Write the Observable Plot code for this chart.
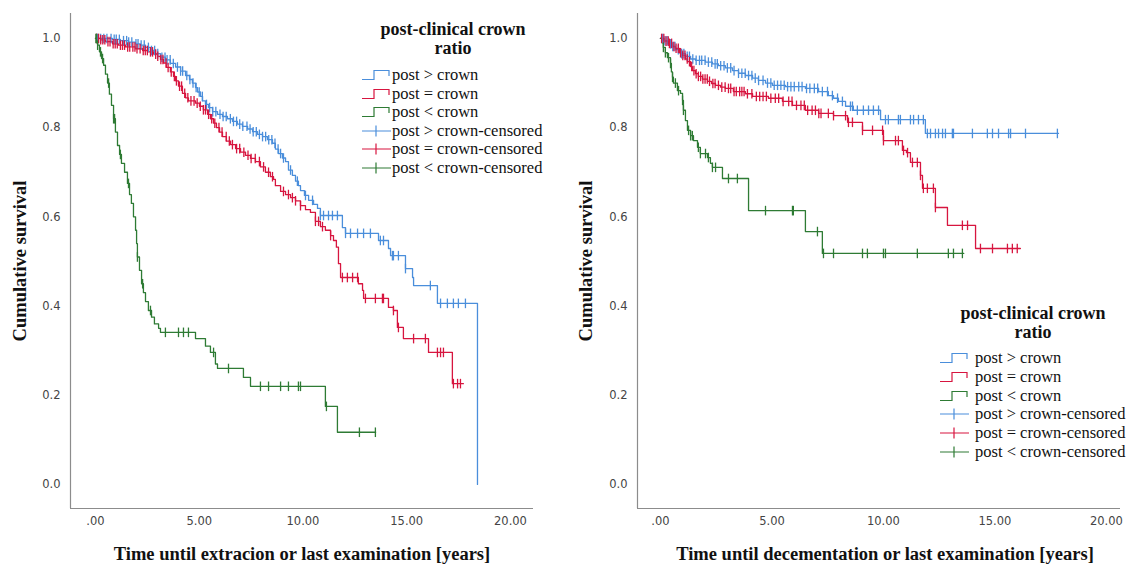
<!DOCTYPE html>
<html><head><meta charset="utf-8">
<script src="https://cdn.jsdelivr.net/npm/d3@7"></script>
<script src="https://cdn.jsdelivr.net/npm/@observablehq/plot@0.6"></script>
<style>
body{margin:0;background:#fff;}
#wrap{position:relative;width:1126px;height:566px;overflow:hidden;background:#fff;}
.panel{position:absolute;top:0;}
.ytitle{position:absolute;font:bold 18.5px "Liberation Serif","DejaVu Serif",serif;white-space:nowrap;transform:translate(-50%,-50%) rotate(-90deg);color:#111;}
.xtitle{position:absolute;font:bold 18.5px "Liberation Serif","DejaVu Serif",serif;white-space:nowrap;transform:translate(-50%,-50%);color:#111;}
.ltitle{position:absolute;font:bold 18px "Liberation Serif","DejaVu Serif",serif;white-space:nowrap;transform:translate(-50%,-50%);color:#111;text-align:center;}
.lrow{position:absolute;font:16.5px "Liberation Serif","DejaVu Serif",serif;white-space:nowrap;color:#111;transform:translateY(-50%);}
.lsym{position:absolute;transform:translateY(-50%);}
</style>
</head><body>
<div id="wrap"></div>
<script>
// ---------- data ----------
const groups = ["post > crown", "post = crown", "post < crown"];
const colors = ["#4a8edb", "#d7153f", "#2e7b34"];
const legendTitle = ["post-clinical crown", "ratio"];
const legendLabels = ["post > crown", "post = crown", "post < crown",
  "post > crown-censored", "post = crown-censored", "post < crown-censored"];
const xTicks = [0, 5, 10, 15, 20];
const yTicks = [0, 0.2, 0.4, 0.6, 0.8, 1.0];
const yTitle = "Cumulative survival";
const xTitleLeft = "Time until extracion or last examination [years]";
const xTitleRight = "Time until decementation or last examination [years]";

// Left panel (extraction) — step knots [time, survival]
const leftBlue = [[0,1.0],[0.82,0.998],[1.20,0.995],[1.59,0.992],[1.93,0.988],[2.17,0.985],[2.41,0.98],[2.65,0.973],[2.89,0.966],[3.13,0.958],[3.37,0.952],[3.61,0.944],[3.86,0.936],[4.10,0.927],[4.34,0.917],[4.53,0.908],[4.67,0.90],[4.82,0.89],[4.92,0.88],[5.06,0.87],[5.16,0.86],[5.30,0.852],[5.45,0.845],[5.64,0.836],[5.88,0.83],[6.12,0.825],[6.36,0.82],[6.60,0.814],[6.84,0.808],[7.08,0.803],[7.33,0.797],[7.57,0.791],[7.81,0.785],[8.05,0.78],[8.29,0.773],[8.53,0.765],[8.67,0.752],[8.82,0.742],[9.01,0.732],[9.16,0.724],[9.30,0.705],[9.49,0.693],[9.64,0.68],[9.78,0.67],[9.88,0.659],[10.07,0.648],[10.27,0.637],[10.51,0.628],[10.70,0.619],[10.84,0.603],[11.90,0.576],[12.05,0.563],[13.64,0.547],[14.12,0.529],[14.22,0.513],[14.94,0.484],[15.28,0.464],[15.33,0.446],[16.48,0.406],[18.41,0.0]];
const leftBlueCens = [0.1,0.25,0.4,0.55,0.75,0.9,1.0,1.15,1.35,1.5,1.6,1.75,1.95,2.05,2.2,2.35,2.55,2.7,2.85,3.0,3.2,3.35,3.45,3.6,3.75,3.95,4.1,4.2,4.4,4.55,4.7,4.85,5.0,5.15,5.35,5.5,5.65,5.8,6.0,6.15,6.3,6.5,6.65,6.8,6.95,7.1,7.3,7.45,7.6,7.75,7.9,8.05,8.2,8.35,8.5,8.65,8.8,8.92,9.06,9.40,9.73,10.12,10.46,10.84,10.99,11.23,11.42,11.66,12.05,12.29,12.63,12.92,13.25,13.73,13.88,14.31,14.36,14.60,14.94,16.14,16.63,16.96,17.25,17.49,17.83];
const leftRed = [[0,1.0],[0.24,0.997],[0.48,0.993],[0.82,0.988],[1.11,0.985],[1.45,0.981],[1.93,0.977],[2.27,0.973],[2.55,0.97],[2.80,0.965],[2.99,0.96],[3.13,0.953],[3.28,0.945],[3.42,0.935],[3.61,0.925],[3.76,0.915],[3.86,0.905],[4.00,0.893],[4.19,0.877],[4.34,0.867],[4.48,0.86],[4.82,0.855],[5.01,0.848],[5.20,0.84],[5.40,0.83],[5.54,0.82],[5.69,0.81],[5.83,0.80],[5.98,0.79],[6.12,0.78],[6.31,0.77],[6.51,0.762],[6.75,0.753],[6.99,0.745],[7.23,0.738],[7.47,0.731],[7.71,0.724],[7.95,0.712],[8.19,0.70],[8.43,0.69],[8.58,0.684],[8.67,0.67],[8.92,0.657],[9.16,0.65],[9.40,0.643],[9.64,0.636],[9.88,0.625],[10.12,0.616],[10.36,0.61],[10.60,0.59],[10.84,0.578],[11.08,0.57],[11.33,0.558],[11.47,0.547],[11.61,0.532],[11.71,0.495],[11.81,0.464],[12.67,0.45],[12.87,0.435],[12.92,0.417],[14.12,0.397],[14.36,0.39],[14.55,0.352],[14.84,0.327],[16.05,0.296],[17.20,0.226],[17.73,0.226]];
const leftRedCens = [0.05,0.15,0.25,0.35,0.45,0.6,0.7,0.85,0.95,1.05,1.2,1.3,1.4,1.55,1.65,1.8,1.9,2.0,2.15,2.3,2.4,2.5,2.65,2.75,2.9,3.0,3.15,3.25,3.4,3.5,3.65,3.8,3.9,4.05,4.15,4.3,4.45,4.6,4.75,4.9,5.05,5.2,5.3,5.45,5.6,5.75,5.95,6.1,6.3,6.45,6.6,6.8,6.95,7.15,7.35,7.5,7.7,7.9,8.10,8.34,8.53,9.06,9.30,9.49,9.64,9.88,10.60,10.75,10.94,11.33,11.90,12.14,12.39,12.63,13.01,13.49,13.83,13.88,14.36,14.60,15.33,15.90,16.48,16.63,16.77,17.25,17.45,17.59];
const leftGreen = [[0,1.0],[0.10,0.985],[0.19,0.97],[0.29,0.955],[0.39,0.94],[0.48,0.92],[0.58,0.90],[0.67,0.875],[0.77,0.85],[0.87,0.82],[0.96,0.79],[1.06,0.76],[1.16,0.74],[1.25,0.72],[1.40,0.70],[1.54,0.675],[1.64,0.65],[1.73,0.63],[1.83,0.60],[1.93,0.57],[1.98,0.54],[2.02,0.51],[2.12,0.48],[2.22,0.45],[2.31,0.43],[2.41,0.41],[2.55,0.39],[2.70,0.375],[2.84,0.36],[3.04,0.35],[3.13,0.341],[4.82,0.327],[5.30,0.31],[5.54,0.296],[5.78,0.27],[5.88,0.26],[7.13,0.24],[7.47,0.22],[11.08,0.175],[11.66,0.117],[13.5,0.117]];
const leftGreenCens = [0.02,0.05,0.1,0.24,0.34,0.63,0.87,0.92,1.2,1.59,2.02,2.27,2.65,3.37,4.0,4.24,4.48,5.69,6.41,7.95,8.34,8.92,9.3,9.78,9.88,11.13,12.72,13.49];

// Right panel (decementation)
const rightBlue = [[0,1.0],[0.13,0.995],[0.31,0.988],[0.49,0.982],[0.67,0.975],[0.90,0.966],[1.12,0.96],[1.35,0.954],[1.57,0.951],[2.02,0.947],[2.33,0.943],[2.60,0.939],[2.91,0.934],[3.23,0.928],[3.50,0.922],[3.81,0.917],[4.13,0.911],[4.39,0.906],[4.71,0.90],[5.02,0.895],[5.61,0.892],[6.50,0.888],[7.09,0.881],[7.53,0.872],[7.76,0.866],[7.98,0.859],[8.30,0.848],[8.65,0.839],[9.87,0.818],[11.88,0.787],[17.85,0.787]];
const rightBlueCens = [0.1,0.2,0.3,0.45,0.55,0.65,0.8,0.95,1.05,1.2,1.3,1.45,1.6,1.75,1.85,2.0,2.15,2.3,2.45,2.55,2.7,2.85,3.0,3.15,3.3,3.5,3.65,3.8,3.95,4.1,4.25,4.4,4.6,4.8,4.95,5.1,5.25,5.4,5.55,5.7,5.85,6.0,6.2,6.35,6.55,6.7,6.9,7.05,7.26,7.49,7.71,7.94,8.16,8.52,8.61,8.83,9.10,9.33,9.55,9.78,10.09,10.22,10.67,10.76,11.21,11.35,11.57,11.79,11.97,12.11,12.33,12.47,12.65,12.78,13.09,13.14,13.99,14.66,14.89,15.16,15.61,15.70,16.37,17.80];
const rightRed = [[0,1.0],[0.18,0.994],[0.36,0.989],[0.54,0.982],[0.67,0.978],[0.85,0.968],[0.99,0.962],[1.12,0.954],[1.21,0.948],[1.35,0.937],[1.43,0.928],[1.57,0.921],[1.70,0.915],[1.88,0.909],[2.11,0.904],[2.29,0.899],[2.47,0.895],[2.69,0.891],[2.91,0.888],[3.27,0.881],[3.81,0.876],[4.13,0.87],[4.84,0.866],[5.47,0.859],[5.92,0.85],[6.50,0.839],[7.09,0.832],[7.76,0.827],[8.39,0.812],[9.06,0.794],[10.0,0.771],[10.85,0.749],[11.03,0.744],[11.21,0.722],[11.66,0.693],[11.75,0.664],[12.33,0.621],[12.87,0.581],[14.13,0.529],[16.14,0.529]];
const rightRedCens = [0.05,0.15,0.25,0.35,0.4,0.5,0.6,0.7,0.8,0.9,1.0,1.1,1.2,1.3,1.4,1.5,1.6,1.7,1.8,1.9,2.0,2.1,2.2,2.35,2.45,2.6,2.75,2.9,3.05,3.15,3.3,3.4,3.55,3.65,3.75,3.9,4.1,4.3,4.45,4.6,4.75,4.95,5.15,5.3,5.5,5.75,5.9,6.1,6.3,6.45,6.6,6.8,6.95,7.1,7.2,7.53,7.76,8.30,8.43,8.61,9.06,9.51,9.96,10.0,10.54,10.67,10.90,11.08,11.30,11.52,11.66,11.79,11.97,12.24,12.33,13.54,13.77,14.35,14.89,15.56,15.78,16.0];
const rightGreen = [[0,1.0],[0.09,0.99],[0.13,0.98],[0.22,0.968],[0.31,0.957],[0.45,0.944],[0.49,0.925],[0.54,0.913],[0.58,0.90],[0.76,0.883],[0.90,0.877],[0.99,0.861],[1.03,0.839],[1.12,0.816],[1.21,0.794],[1.35,0.782],[1.48,0.771],[1.66,0.756],[1.79,0.742],[2.11,0.733],[2.24,0.72],[2.33,0.711],[2.78,0.686],[3.95,0.614],[6.50,0.567],[7.26,0.518],[13.6,0.518]];
const rightGreenCens = [0.13,0.22,0.36,0.45,0.54,0.67,0.81,0.99,1.03,1.26,1.35,1.43,1.70,1.79,2.02,2.15,2.33,2.47,3.05,3.45,4.71,5.92,5.96,7.04,7.31,7.76,9.06,9.28,10.0,10.09,11.52,12.91,13.14,13.54];

// ---------- helpers ----------
function survAt(knots, t) {
  let s = knots[0][1];
  for (const k of knots) { if (k[0] <= t) s = k[1]; else break; }
  return s;
}
const tickSymbol = { draw(ctx, size) { const r = Math.sqrt(size / Math.PI); ctx.moveTo(0, -r); ctx.lineTo(0, r); } };
const fmtX = d => d === 0 ? ".00" : d.toFixed(2);
const fmtY = d => d.toFixed(1);
const yDomain = [-0.054, 1.056];

function panel(cfg) {
  const marks = [];
  cfg.series.forEach((s, i) => {
    marks.push(Plot.line(s.knots, {x: d => d[0], y: d => d[1], curve: "step-after", stroke: colors[i], strokeWidth: 1.3}));
  });
  cfg.series.forEach((s, i) => {
    const pts = s.cens.map(t => ({t, v: survAt(s.knots, t)}));
    marks.push(Plot.dot(pts, {x: "t", y: "v", symbol: tickSymbol, r: 4.8, stroke: colors[i], strokeWidth: 1.3, fill: "none"}));
  });
  return Plot.plot({
    width: 563, height: 566,
    marginLeft: cfg.ml, marginRight: cfg.mr, marginTop: 13, marginBottom: 58,
    x: {domain: cfg.xd},
    y: {domain: yDomain},
    style: {fontFamily: "DejaVu Sans, sans-serif", fontSize: "11.5px", background: "white"},
    marks: [
      Plot.axisX({ticks: xTicks, tickFormat: fmtX, tickSize: 0, tickPadding: 8, fill: "#444", label: null}),
      Plot.axisY({ticks: yTicks, tickFormat: fmtY, tickSize: 0, tickPadding: 10, fill: "#444", label: null}),
      ...marks,
      Plot.ruleX([cfg.xd[0]], {stroke: "#8c8c8c", strokeWidth: 1.2}),
      Plot.ruleY([yDomain[0]], {stroke: "#8c8c8c", strokeWidth: 1.2})
    ]
  });
}

const wrap = document.getElementById("wrap");
function place(el, left) { el.classList.add("panel"); el.style.left = left + "px"; wrap.appendChild(el); }

place(panel({ml: 70, mr: 30, xd: [-1.205, 21.11],
  series: [{knots: leftBlue, cens: leftBlueCens}, {knots: leftRed, cens: leftRedCens}, {knots: leftGreen, cens: leftGreenCens}]}), 0);
place(panel({ml: 74, mr: 6, xd: [-1.03, 20.63],
  series: [{knots: rightBlue, cens: rightBlueCens}, {knots: rightRed, cens: rightRedCens}, {knots: rightGreen, cens: rightGreenCens}]}), 563);

function addText(cls, text, x, y) {
  const d = document.createElement("div"); d.className = cls; d.textContent = text;
  d.style.left = x + "px"; d.style.top = y + "px"; wrap.appendChild(d); return d;
}
addText("ytitle", yTitle, 20, 261);
addText("ytitle", yTitle, 586, 261);
addText("xtitle", xTitleLeft, 302, 554);
addText("xtitle", xTitleRight, 885, 554);

function legend(cx, ty, symX, textX, rowY0, rowStep) {
  addText("ltitle", legendTitle[0], cx, ty);
  addText("ltitle", legendTitle[1], cx, ty + 19);
  legendLabels.forEach((lab, i) => {
    const y = rowY0 + i * rowStep;
    const c = colors[i % 3];
    const ns = "http://www.w3.org/2000/svg";
    const svg = document.createElementNS(ns, "svg");
    svg.setAttribute("width", 30); svg.setAttribute("height", 12);
    svg.setAttribute("class", "lsym");
    svg.style.left = symX + "px"; svg.style.top = y + "px";
    const p = document.createElementNS(ns, "path");
    p.setAttribute("d", i < 3 ? "M0,10.5H12V1.5H27V7" : "M0,6H29M14,0.5V11.5");
    p.setAttribute("stroke", c); p.setAttribute("stroke-width", "1.2"); p.setAttribute("fill", "none");
    svg.appendChild(p); wrap.appendChild(svg);
    addText("lrow", lab, textX, y);
  });
}
legend(453, 29, 362, 392, 75, 18.6);
legend(1033, 313, 940, 975, 358, 18.8);
</script>
</body></html>
